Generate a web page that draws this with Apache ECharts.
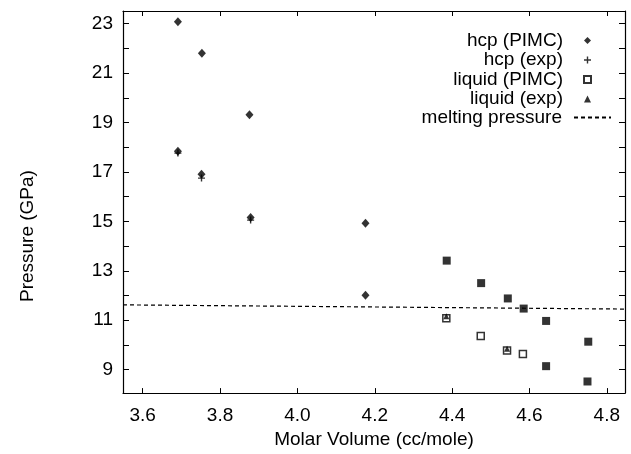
<!DOCTYPE html>
<html>
<head>
<meta charset="utf-8">
<script src="https://cdn.jsdelivr.net/npm/echarts@6/dist/echarts.min.js"></script>
<style>html,body{margin:0;padding:0;background:#fff}#c{width:631px;height:454px}</style>
</head>
<body>
<div id="c"></div>
<script>
// Data
const hcpPimcX = [3.691, 3.753, 3.876, 4.176, 3.691, 3.752, 3.879, 4.176];
const hcpPimcY = [23.08, 21.80, 19.31, 14.92, 17.84, 16.90, 15.15, 12.01];
const hcpExpX = [3.691, 3.752, 3.879];
const hcpExpY = [17.76, 16.75, 15.05];
const liquidPimcX = [4.385, 4.474, 4.542, 4.583];
const liquidPimcY = [11.08, 10.36, 9.77, 9.63];
const liquidExpX = [4.385, 4.542];
const liquidExpY = [11.16, 9.84];
const liquidFilledX = [4.386, 4.475, 4.544, 4.585, 4.643, 4.752, 4.643, 4.750];
const liquidFilledY = [13.41, 12.50, 11.88, 11.47, 10.97, 10.13, 9.14, 8.52];
const meltX = [3.549, 4.847];
const meltY = [11.62, 11.45];
const xTicks = [3.6, 3.8, 4.0, 4.2, 4.4, 4.6, 4.8];
const yTicks = [8, 9, 10, 11, 12, 13, 14, 15, 16, 17, 18, 19, 20, 21, 22, 23];
const yLabels = [9, 11, 13, 15, 17, 19, 21, 23];
const symbolNames = ['hcp (PIMC)', 'hcp (exp)', 'liquid (PIMC)', 'liquid (exp)'];
const lineNames = ['melting pressure'];

const zip = (xs, ys) => xs.map((x, i) => [x, ys[i]]);
const FONT = 'Liberation Sans, Arial, sans-serif';
const FS = 19;
const plus = 'path://M2,0h1v2h2v1h-2v2h-1v-2h-2v-1h2z';

const chart = echarts.init(document.getElementById('c'), null, {renderer: 'canvas'});
const axisLine = {show: true, lineStyle: {color: '#000', width: 1.2}};
chart.setOption({
  animation: false,
  backgroundColor: '#fff',
  grid: {left: 123, right: 6, top: 11, bottom: 52},
  legend: [{
    data: symbolNames,
    orient: 'vertical',
    align: 'right',
    right: 39,
    top: 31,
    padding: 0,
    itemWidth: 7,
    itemHeight: 7,
    itemGap: 0.5,
    textStyle: {fontFamily: FONT, fontSize: FS, color: '#000', padding: [0, 16, 0, 0]}
  }, {
    data: lineNames.map(n => ({name: n, itemStyle: {color: 'rgba(0,0,0,0)', borderColor: 'rgba(0,0,0,0)', borderWidth: 0}})),
    orient: 'vertical',
    align: 'right',
    right: 19,
    top: 108,
    padding: 0,
    itemWidth: 37,
    itemHeight: 7,
    textStyle: {fontFamily: FONT, fontSize: FS, color: '#000', padding: [0, 7, 0, 0]}
  }],
  xAxis: [{
    type: 'value', min: 3.549, max: 4.847, position: 'bottom',
    name: 'Molar Volume (cc/mole)', nameLocation: 'middle', nameGap: 32,
    nameTextStyle: {fontFamily: FONT, fontSize: FS, color: '#000'},
    axisLine: axisLine,
    axisTick: {show: true, inside: true, length: 5, customValues: xTicks, lineStyle: {color: '#000'}},
    axisLabel: {customValues: xTicks, formatter: v => v.toFixed(1), fontFamily: FONT, fontSize: FS, color: '#000', margin: 13},
    splitLine: {show: false}
  }, {
    type: 'value', min: 3.549, max: 4.847, position: 'top',
    axisLine: axisLine,
    axisTick: {show: true, inside: true, length: 5, customValues: xTicks, lineStyle: {color: '#000'}},
    axisLabel: {show: false},
    splitLine: {show: false}
  }],
  yAxis: [{
    type: 'value', min: 8.05, max: 23.51, position: 'left',
    name: 'Pressure (GPa)', nameLocation: 'middle', nameGap: 86,
    nameTextStyle: {fontFamily: FONT, fontSize: FS, color: '#000', padding: [0, 68, 0, 0]},
    axisLine: axisLine,
    axisTick: {show: true, inside: true, length: 6, customValues: yTicks, lineStyle: {color: '#000'}},
    axisLabel: {customValues: yLabels, fontFamily: FONT, fontSize: FS, color: '#000', margin: 10},
    splitLine: {show: false}
  }, {
    type: 'value', min: 8.05, max: 23.51, position: 'right',
    axisLine: axisLine,
    axisTick: {show: true, inside: true, length: 6, customValues: yTicks, lineStyle: {color: '#000'}},
    axisLabel: {show: false},
    splitLine: {show: false}
  }],
  series: [
    {name: 'melting pressure', type: 'line', data: zip(meltX, meltY), symbol: 'none',
     lineStyle: {color: '#000', width: 1.2, type: [4, 3]}, itemStyle: {color: '#000'}, z: 1},
    {name: 'liquid (PIMC) filled', type: 'scatter', data: zip(liquidFilledX, liquidFilledY),
     symbol: 'rect', symbolSize: 8, itemStyle: {color: '#000'}},
    {name: 'hcp (PIMC)', type: 'scatter', data: zip(hcpPimcX, hcpPimcY),
     symbol: 'diamond', symbolSize: [8, 9], itemStyle: {color: '#000'}},
    {name: 'hcp (exp)', type: 'scatter', data: zip(hcpExpX, hcpExpY),
     symbol: plus, symbolSize: 7, itemStyle: {color: '#000'}},
    {name: 'liquid (PIMC)', type: 'scatter', data: zip(liquidPimcX, liquidPimcY),
     symbol: 'rect', symbolSize: 7, itemStyle: {color: '#fff', borderColor: '#000', borderWidth: 1.5}},
    {name: 'liquid (exp)', type: 'scatter', data: zip(liquidExpX, liquidExpY),
     symbol: 'triangle', symbolSize: 6, itemStyle: {color: '#000'}}
  ]
});
</script>
</body>
</html>
